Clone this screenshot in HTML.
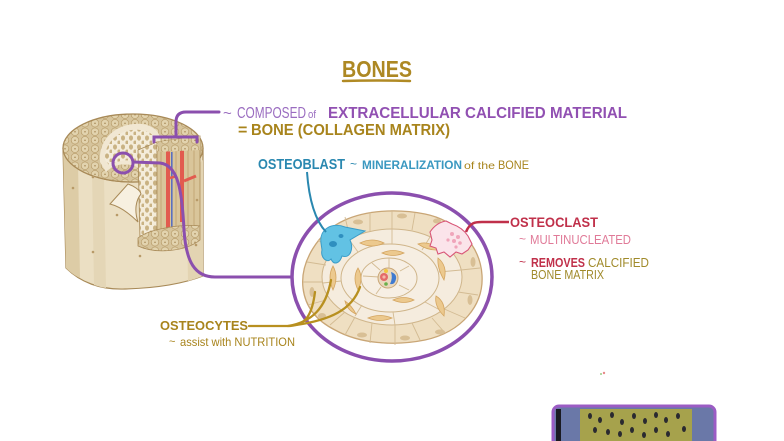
<!DOCTYPE html>
<html><head><meta charset="utf-8"><style>
html,body{margin:0;padding:0;background:#fff;}
svg{display:block;}
text{font-family:"Liberation Sans",sans-serif;}
</style></head><body>
<svg width="784" height="441" viewBox="0 0 784 441" xmlns="http://www.w3.org/2000/svg">
<defs>
<pattern id="ost" width="10" height="8.5" patternUnits="userSpaceOnUse">
<rect width="10" height="8.5" fill="#d6c49c"/>
<circle cx="5" cy="4.25" r="3.8" fill="#e2d3ae" stroke="#b79b68" stroke-width="0.7"/>
<circle cx="5" cy="4.25" r="0.8" fill="#a88a58"/>
</pattern>
<pattern id="spg" width="8" height="9" patternUnits="userSpaceOnUse">
<rect width="8" height="9" fill="#f4ecda"/>
<ellipse cx="3" cy="3" rx="2" ry="2.6" fill="#c9b283"/>
<ellipse cx="7" cy="7.5" rx="1.6" ry="2" fill="#c9b283"/>
</pattern>
<clipPath id="topc"><ellipse cx="133" cy="148" rx="70" ry="34"/></clipPath>
</defs>

<!-- Title -->
<text x="342" y="77" font-size="23" font-weight="bold" fill="#ad8823" textLength="70" lengthAdjust="spacingAndGlyphs">BONES</text>
<path d="M343,81 Q376,80 410,81" stroke="#b08a24" stroke-width="2.5" fill="none" stroke-linecap="round"/>

<!-- Line 1 -->
<text x="223" y="118" font-size="15" fill="#9a6cc0">~</text>
<text x="237" y="118" font-size="16" fill="#9a6cc0" textLength="69" lengthAdjust="spacingAndGlyphs">COMPOSED</text>
<text x="308" y="118" font-size="11" fill="#9a6cc0" textLength="8" lengthAdjust="spacingAndGlyphs">of</text>
<text x="328" y="118" font-size="16" font-weight="bold" fill="#9150b2" textLength="299" lengthAdjust="spacingAndGlyphs">EXTRACELLULAR CALCIFIED MATERIAL</text>
<!-- Line 2 -->
<text x="238" y="135" font-size="16" font-weight="bold" fill="#a8841c">=</text>
<text x="251" y="135" font-size="16" font-weight="bold" fill="#a8841c" textLength="199" lengthAdjust="spacingAndGlyphs">BONE (COLLAGEN MATRIX)</text>

<!-- Osteoblast label -->
<text x="258" y="169" font-size="15" font-weight="bold" fill="#2a88b0" textLength="87" lengthAdjust="spacingAndGlyphs">OSTEOBLAST</text>
<text x="350" y="168" font-size="12" fill="#2a88b0">~</text>
<text x="362" y="169" font-size="12" font-weight="bold" fill="#3a98c0" textLength="100" lengthAdjust="spacingAndGlyphs">MINERALIZATION</text>
<text x="464" y="169" font-size="10" fill="#a8841c" textLength="31" lengthAdjust="spacingAndGlyphs">of the</text>
<text x="498" y="169" font-size="12" fill="#a8841c" textLength="31" lengthAdjust="spacingAndGlyphs">BONE</text>

<!-- Osteoclast label -->
<text x="510" y="227" font-size="14" font-weight="bold" fill="#c0304a" textLength="88" lengthAdjust="spacingAndGlyphs">OSTEOCLAST</text>
<text x="519" y="243" font-size="12" fill="#e07a98">~</text>
<text x="530" y="244" font-size="13" fill="#e07a98" textLength="101" lengthAdjust="spacingAndGlyphs">MULTINUCLEATED</text>
<text x="519" y="266" font-size="12" fill="#c0304a">~</text>
<text x="531" y="267" font-size="13" font-weight="bold" fill="#c0304a" textLength="54" lengthAdjust="spacingAndGlyphs">REMOVES</text>
<text x="588" y="267" font-size="13" fill="#a08a2a" textLength="61" lengthAdjust="spacingAndGlyphs">CALCIFIED</text>
<text x="531" y="279" font-size="13" fill="#a08a2a" textLength="73" lengthAdjust="spacingAndGlyphs">BONE MATRIX</text>

<!-- Osteocytes label -->
<text x="160" y="330" font-size="13" font-weight="bold" fill="#a8841c" textLength="88" lengthAdjust="spacingAndGlyphs">OSTEOCYTES</text>
<text x="169" y="345" font-size="11" fill="#a8841c">~</text>
<text x="180" y="346" font-size="12" fill="#a8841c" textLength="115" lengthAdjust="spacingAndGlyphs">assist with NUTRITION</text>

<!-- ===== Bone cylinder ===== -->
<path d="M63,148 L66,268 C80,282 100,290 125,289 C160,288 185,283 203,276 L203,148 A70,34 0 0,1 63,148 Z" fill="#ebdfc3" stroke="#a88a58" stroke-width="1.2"/>
<path d="M63,148 L66,268 C70,272 75,276 80,278 L78,162 Q68,156 63,148 Z" fill="#ddcca6"/>
<path d="M92,172 L94,285 Q100,287 106,288 L104,177 Z" fill="#e4d6b6"/>
<path d="M186,176 L188,281 Q195,279 203,276 L203,160 Z" fill="#e3d4b2"/>
<!-- top face -->
<ellipse cx="133" cy="148" rx="70" ry="34" fill="url(#ost)" stroke="#a88a58" stroke-width="1.3"/>
<g clip-path="url(#topc)">
<path d="M100,162 C98,136 120,122 142,124 C156,126 162,134 160,146 L150,178 C138,162 118,160 106,172 Z" fill="#f1e7d2"/>
<path d="M105,160 C104,140 122,128 140,130 C152,131 156,137 155,146 L148,170 C136,158 120,158 110,166 Z" fill="url(#spg)"/>
</g>
<!-- cut-away -->
<path d="M138,150 L157,142 L157,232 L140,240 Z" fill="url(#spg)" stroke="#a88a58" stroke-width="0.8"/>
<path d="M157,142 L200,136 L200,226 L157,232 Z" fill="#d9c59a" stroke="#a88a58" stroke-width="0.8"/>
<g stroke="#c0a572" stroke-width="0.9">
<line x1="161" y1="142" x2="161" y2="232"/><line x1="176" y1="140" x2="176" y2="230"/>
<line x1="188" y1="138" x2="188" y2="228"/><line x1="194" y1="137" x2="194" y2="227"/>
</g>
<rect x="166" y="150" width="4" height="80" fill="#e25b4f"/>
<rect x="171" y="152" width="1.6" height="76" fill="#5a70c0"/>
<rect x="180" y="150" width="4" height="72" fill="#e25b4f"/>
<path d="M184,181 L196,176" stroke="#e25b4f" stroke-width="3"/>
<path d="M170,178 L177,176" stroke="#e25b4f" stroke-width="2.5"/>
<path d="M157,142 L200,136 L200,150 L157,152 Z" fill="url(#ost)"/>
<path d="M138,238 C150,228 185,224 200,226 L200,240 C185,252 155,254 138,246 Z" fill="url(#ost)" stroke="#a88a58" stroke-width="0.8"/>
<!-- flap -->
<path d="M110,204 L128,184 C134,186 140,190 141,194 C136,200 134,210 138,222 C128,212 118,206 110,204 Z" fill="#f7f0e0" stroke="#a88a58" stroke-width="1"/>
<!-- dots -->
<g fill="#b89a68">
<circle cx="93" cy="177" r="1.3"/><circle cx="73" cy="188" r="1.3"/><circle cx="117" cy="215" r="1.3"/>
<circle cx="93" cy="252" r="1.3"/><circle cx="140" cy="256" r="1.3"/><circle cx="197" cy="200" r="1.3"/><circle cx="196" cy="245" r="1.3"/>
</g>

<!-- purple connectors -->
<g fill="none" stroke="#8b4fae" stroke-width="3" stroke-linecap="round">
<circle cx="123" cy="163" r="10"/>
<path d="M133,162 L160,163 C178,165 182,190 184,230 C186,262 195,277 215,277 L292,277"/>
<path d="M219,112 L186,112 Q176,112 176,122 L176,137"/>
<path d="M154,142 L154,137 L197,137 L197,142"/>
<ellipse cx="392" cy="277" rx="100" ry="84" stroke-width="3.5"/>
</g>

<!-- ===== Osteon tissue ===== -->
<path d="M303,288 C300,262 318,232 345,220 C365,211 395,208 425,214 C455,220 480,244 482,275 C484,305 462,332 425,340 C395,346 360,344 335,330 C315,320 305,305 303,288 Z" fill="#efdfc2" stroke="#c9a676" stroke-width="1.3"/>
<ellipse cx="392" cy="277" rx="70" ry="48" fill="#f5ecde" stroke="#cfb58a" stroke-width="1"/>
<ellipse cx="390" cy="278" rx="49" ry="34" fill="#f6eee2" stroke="#cfb58a" stroke-width="1"/>
<ellipse cx="389" cy="278" rx="28" ry="20" fill="#f7efe4" stroke="#cfb58a" stroke-width="1"/>
<g stroke="#d3bb93" stroke-width="0.9">
<line x1="392" y1="229" x2="392" y2="244"/><line x1="430" y1="237" x2="422" y2="250"/>
<line x1="461" y1="270" x2="439" y2="272"/><line x1="440" y1="310" x2="425" y2="302"/>
<line x1="395" y1="325" x2="393" y2="312"/><line x1="355" y1="316" x2="362" y2="305"/>
<line x1="323" y1="283" x2="341" y2="281"/><line x1="348" y1="238" x2="358" y2="252"/>
<line x1="389" y1="258" x2="389" y2="268"/><line x1="409" y1="266" x2="400" y2="271"/>
<line x1="409" y1="290" x2="399" y2="285"/><line x1="376" y1="294" x2="381" y2="287"/>
<line x1="363" y1="276" x2="379" y2="277"/><line x1="372" y1="263" x2="380" y2="270"/>
<line x1="345" y1="217" x2="350" y2="238"/><line x1="392" y1="210" x2="392" y2="229"/>
<line x1="440" y1="222" x2="430" y2="237"/><line x1="480" y1="268" x2="461" y2="270"/>
<line x1="465" y1="318" x2="442" y2="308"/><line x1="420" y1="340" x2="412" y2="323"/>
<line x1="370" y1="343" x2="372" y2="323"/><line x1="330" y1="325" x2="345" y2="312"/>
<line x1="303" y1="282" x2="322" y2="282"/><line x1="318" y1="240" x2="334" y2="252"/>
<line x1="370" y1="212" x2="370" y2="231"/><line x1="415" y1="213" x2="412" y2="230"/>
<line x1="462" y1="238" x2="448" y2="250"/><line x1="478" y1="295" x2="458" y2="292"/>
<line x1="445" y1="333" x2="432" y2="318"/><line x1="395" y1="345" x2="395" y2="325"/>
<line x1="345" y1="335" x2="355" y2="317"/><line x1="308" y1="305" x2="326" y2="300"/>
<line x1="307" y1="262" x2="326" y2="265"/>
</g>
<!-- outer nuclei -->
<g fill="#d8bf95">
<ellipse cx="358" cy="222" rx="5" ry="2.5"/><ellipse cx="402" cy="216" rx="5" ry="2.5"/>
<ellipse cx="473" cy="262" rx="2.5" ry="5"/><ellipse cx="470" cy="300" rx="2.5" ry="5"/>
<ellipse cx="440" cy="332" rx="5" ry="2.5"/><ellipse cx="405" cy="338" rx="5" ry="2.5"/>
<ellipse cx="362" cy="335" rx="5" ry="2.5"/><ellipse cx="322" cy="316" rx="4" ry="3"/>
<ellipse cx="312" cy="292" rx="2.5" ry="5"/><ellipse cx="437" cy="221" rx="4" ry="2.5"/>
</g>
<!-- osteocytes -->
<g fill="#ecc98e" stroke="#d4a560" stroke-width="0.8">
<path d="M333,266 Q339,277 333,290 Q327,277 333,266 Z"/>
<path d="M358,268 Q364,278 358,290 Q352,278 358,268 Z"/>
<path d="M360,243 Q372,237 384,243 Q372,249 360,243 Z"/>
<path d="M382,253 Q393,248 404,253 Q393,258 382,253 Z"/>
<path d="M418,244 Q429,240 440,250 Q428,251 418,244 Z"/>
<path d="M438,258 Q448,266 444,280 Q437,268 438,258 Z"/>
<path d="M436,296 Q446,302 444,316 Q434,306 436,296 Z"/>
<path d="M393,300 Q404,295 414,300 Q404,305 393,300 Z"/>
<path d="M368,318 Q380,313 392,318 Q380,323 368,318 Z"/>
<path d="M345,301 Q352,306 356,314 Q347,310 345,301 Z"/>
</g>
<!-- central canal -->
<circle cx="388" cy="278" r="10" fill="#ead8bd" stroke="#c9a676" stroke-width="1"/>
<circle cx="384" cy="277" r="4" fill="#e46a6a"/>
<circle cx="384" cy="277" r="1.6" fill="#f4b8a8"/>
<path d="M391,272 Q397,274 396,279 Q395,285 390,284 Q393,278 391,272 Z" fill="#3f7ad0"/>
<circle cx="386" cy="271" r="2" fill="#f2c640"/>
<circle cx="386" cy="284" r="1.8" fill="#6ab04c"/>

<!-- osteoblast -->
<path d="M321,243 C319,229 332,222 345,227 L365,231 L350,240 C354,249 350,259 342,256 C340,263 334,266 331,259 C327,264 320,257 322,250 Z" fill="#62c2e4" stroke="#3a9cc8" stroke-width="1"/>
<ellipse cx="333" cy="244" rx="4" ry="3" fill="#2f8fbf"/>
<ellipse cx="341" cy="236" rx="2.5" ry="2" fill="#2f8fbf"/>
<!-- osteoclast -->
<path d="M430,232 C434,226 440,222 446,221 L452,224 C458,226 464,230 468,236 L472,244 L468,250 L462,254 L456,252 L450,257 L444,252 L438,254 L436,248 L430,246 L432,240 Z" fill="#fbe4ea" stroke="#d85577" stroke-width="1.1"/>
<g fill="#f0a5ba">
<circle cx="452" cy="234" r="2"/><circle cx="458" cy="237" r="2"/><circle cx="454" cy="241" r="2"/>
<circle cx="460" cy="243" r="1.8"/><circle cx="448" cy="240" r="1.6"/><circle cx="456" cy="247" r="1.6"/>
</g>

<!-- connectors to labels -->
<path d="M307,172 C309,200 315,220 326,232" stroke="#2a88b0" stroke-width="2" fill="none"/>
<path d="M466,232 C470,222 476,222 482,222 L509,222" stroke="#c0304a" stroke-width="2.5" fill="none"/>
<g stroke="#b89020" stroke-width="2.3" fill="none" stroke-linecap="round">
<path d="M249,326 L290,326 C305,325 312,316 315,292"/>
<path d="M288,326 C312,322 326,308 331,280"/>
<path d="M296,325 C330,320 352,310 360,287"/>
</g>

<!-- tiny dot -->
<circle cx="601" cy="374" r="1" fill="#9ccc88"/>
<circle cx="604" cy="373" r="1.2" fill="#e88a8a"/>

<!-- thumbnail -->
<g>
<rect x="553" y="406" width="162" height="40" rx="6" fill="#6a78a8"/>
<rect x="556" y="409" width="5" height="35" fill="#1a1a22"/>
<rect x="580" y="409" width="112" height="35" fill="#a6a24c"/>
<g fill="#2a2a30">
<ellipse cx="590" cy="416" rx="2" ry="3"/><ellipse cx="600" cy="420" rx="2" ry="3"/><ellipse cx="612" cy="415" rx="2" ry="3"/>
<ellipse cx="622" cy="422" rx="2" ry="3"/><ellipse cx="634" cy="416" rx="2" ry="3"/><ellipse cx="645" cy="421" rx="2" ry="3"/>
<ellipse cx="656" cy="415" rx="2" ry="3"/><ellipse cx="666" cy="420" rx="2" ry="3"/><ellipse cx="678" cy="416" rx="2" ry="3"/>
<ellipse cx="595" cy="430" rx="2" ry="3"/><ellipse cx="608" cy="432" rx="2" ry="3"/><ellipse cx="620" cy="434" rx="2" ry="3"/>
<ellipse cx="632" cy="430" rx="2" ry="3"/><ellipse cx="644" cy="435" rx="2" ry="3"/><ellipse cx="656" cy="430" rx="2" ry="3"/>
<ellipse cx="668" cy="434" rx="2" ry="3"/><ellipse cx="684" cy="429" rx="2" ry="3"/>
</g>
<rect x="553" y="406" width="162" height="40" rx="6" fill="none" stroke="#9b5cc4" stroke-width="3"/>
</g>
</svg>
</body></html>
